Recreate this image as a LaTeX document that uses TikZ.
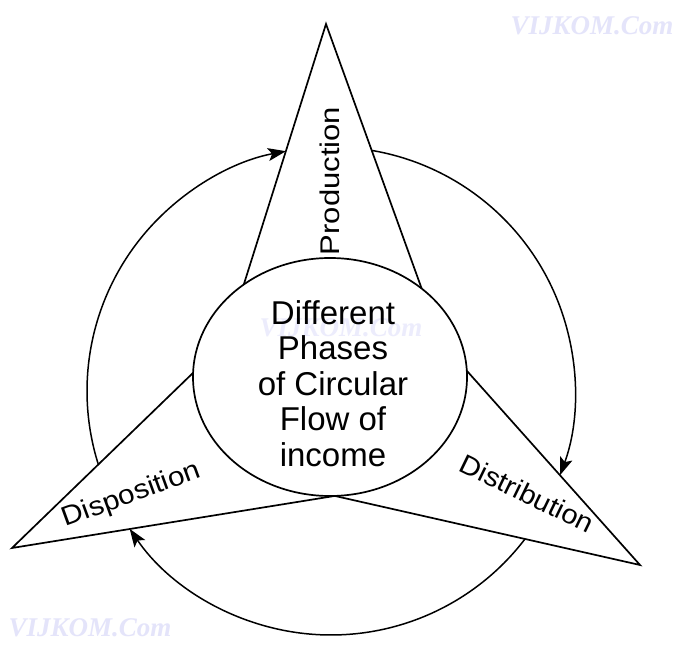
\documentclass[tikz,border=0pt]{standalone}
\usepackage{fontspec}
\usepackage{graphicx}
\setmainfont{Liberation Sans}
\newfontfamily\wmfont{Liberation Serif}
\usetikzlibrary{arrows.meta,calc}
\begin{document}
\begin{tikzpicture}[x=1pt,y=1pt,
  edge/.style={line width=1.7pt, line join=miter},
  flow/.style={line width=1.5pt, -{Stealth[length=18pt,width=13pt,inset=4pt]}},
  lbl/.style={font=\fontsize{27}{30}\selectfont, inner sep=0pt, anchor=base},
  centertext/.style={align=center, font=\fontsize{33}{35.5}\selectfont, inner sep=0pt},
  wm/.style={text={rgb,255:red,228;green,228;blue,250}, font=\wmfont\bfseries\itshape\fontsize{27}{30}\selectfont, inner sep=0pt}
]
\fill[white] (0,0) rectangle (676,644);
\useasboundingbox (0,0) rectangle (676,644);
% watermarks
\node[wm] (wm1) at (592,618) {VIJKOM.Com};
\node[wm] (wm2) at (90,16) {VIJKOM.Com};
\node[wm, text={rgb,255:red,236;green,236;blue,252}] (wm3) at (341,316) {VIJKOM.Com};
% ellipse
\coordinate (Ec) at (330,267);
\draw[edge] (Ec) ellipse [x radius=137, y radius=119];
% triangle points
\coordinate (A) at (326,620);
\coordinate (B1) at ($(Ec)+({137*cos(129)},{119*sin(129)})$);
\coordinate (B2) at ($(Ec)+({137*cos(48)},{119*sin(48)})$);
\coordinate (TL) at (12,96);
\coordinate (E1) at ($(Ec)+({137*cos(178)},{119*sin(178)})$);
\coordinate (Bm) at ($(Ec)+({137*cos(-88)},{119*sin(-88)})$);
\coordinate (TR) at (640,79);
\coordinate (E2) at ($(Ec)+({137*cos(3)},{119*sin(3)})$);
\draw[edge] (B1) -- (A) -- (B2);
\draw[edge] (E1) -- (TL) -- (Bm) -- (TR) -- (E2);
% circular flow arcs
\coordinate (C) at (331,253);
\coordinate (s1) at ($(C)+(197.5:244)$);
\coordinate (s2) at ($(C)+(80.4:244)$);
\coordinate (s3) at ($(C)+(-37.3:244)$);
\draw[flow] (s1) arc [start angle=197.5, end angle=100.65, radius=244];
\draw[flow] (s2) arc [start angle=80.4, end angle=-20.2, radius=244];
\draw[flow] (s3) arc [start angle=-37.3, end angle=-145.6, radius=244];
% labels
\node[lbl, rotate=90] (prod) at (339,463) {\scalebox{1.15}[1]{Production}};
\node[lbl, rotate=20] (disp) at (134,142) {\scalebox{1.1}[1]{Disposition}};
\node[lbl, rotate=-26] (dist) at (523,142) {\scalebox{1.08}[1]{Distribution}};
\node[centertext] (txt) at (333,260.5) {Different\\Phases\\of Circular\\Flow of\\income};
\end{tikzpicture}
\end{document}
